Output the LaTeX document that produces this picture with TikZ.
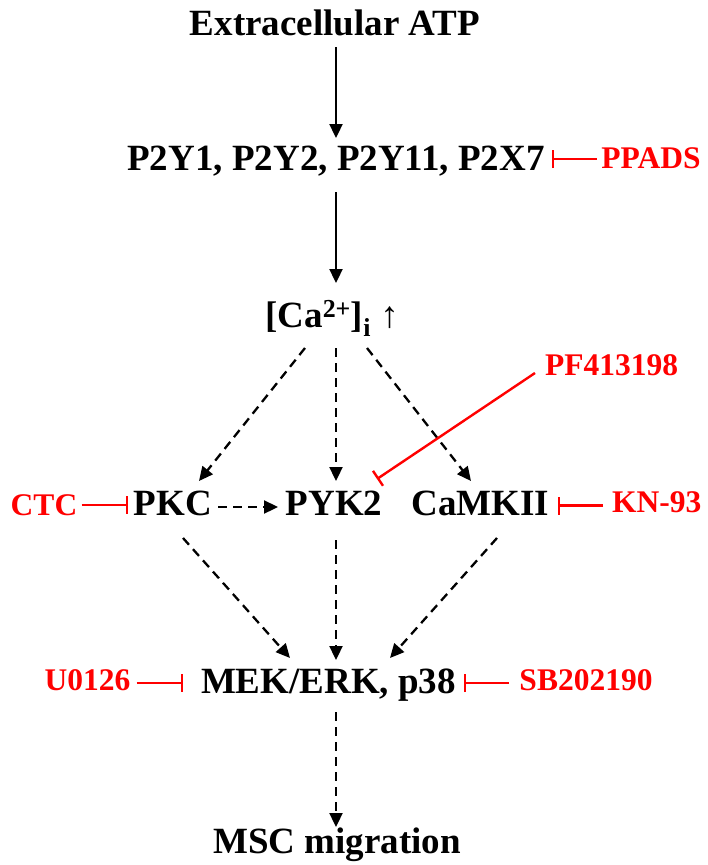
\documentclass[tikz,border=0pt]{standalone}
\usepackage{fontspec}
\setmainfont{Liberation Serif}
\usetikzlibrary{arrows.meta,calc}
\definecolor{inhred}{RGB}{255,0,0}
\tikzset{
  lbl/.style={inner sep=0pt, anchor=base, font=\fontsize{37}{40}\selectfont\bfseries},
  inh/.style={inner sep=0pt, anchor=base, text=inhred, font=\fontsize{31.5}{36}\selectfont\bfseries},
  act/.style={line width=2.3pt, -{Triangle[length=14pt,width=13pt]}},
  dact/.style={act, dash pattern=on 9pt off 6pt},
  block/.style={draw=inhred, line width=2.4pt, -{Bar[width=18pt,line width=2.4pt]}},
}
\begin{document}
\begin{tikzpicture}[x=1pt,y=-1pt]
\useasboundingbox (0,0) rectangle (708,865);

% signalling components
\node[lbl] (atp)  at (335,35)    {Extracellular ATP};
\node[lbl] (p2y)  at (336,170)   {P2Y1, P2Y2, P2Y11, P2X7};
\node[lbl] (ca)   at (332,327)   {[Ca\textsuperscript{2+}]\textsubscript{i} {\mdseries ↑}};
\node[lbl] (pkc)  at (173,515)   {PKC};
\node[lbl] (pyk)  at (334,515)   {PYK2};
\node[lbl] (camk) at (480.5,515) {CaMKII};
\node[lbl] (mek)  at (328.5,693) {MEK/ERK, p38};
\node[lbl] (msc)  at (337,853)   {MSC migration};

% inhibitors
\node[inh] (ppads) at (651,168)   {PPADS};
\node[inh] (pf)    at (611.5,375) {PF413198};
\node[inh] (ctc)   at (44,515)    {CTC};
\node[inh] (kn)    at (656.7,512) {KN-93};
\node[inh] (uo)    at (87.5,690)  {U0126};
\node[inh] (sb)    at (586,690)   {SB202190};

% activation
\draw[act]  ($(atp.base)+(1,12)$)   -- ($(p2y.base)+(0,-32)$);
\draw[act]  ($(p2y.base)+(0,22)$)   -- ($(ca.base)+(4,-44)$);
\draw[dact] ($(ca.base)+(-27,21)$)  -- ($(pkc.base)+(26,-34)$);
\draw[dact] ($(ca.base)+(4,21)$)    -- ($(pyk.base)+(2,-34)$);
\draw[dact] ($(ca.base)+(35,21)$)   -- ($(camk.base)+(-9.5,-34)$);
\draw[dact] ($(pkc.base)+(45,-8)$)  -- ($(pyk.base)+(-56,-8)$);
\draw[dact] ($(pkc.base)+(10,23)$)  -- ($(mek.base)+(-38.5,-35)$);
\draw[dact] ($(pyk.base)+(2,25)$)   -- ($(mek.base)+(7.5,-33)$);
\draw[dact] ($(camk.base)+(16.5,23)$) -- ($(mek.base)+(61.5,-35)$);
\draw[dact] ($(mek.base)+(7.5,19)$) -- ($(msc.base)+(-1,-26)$);

% inhibition
\draw[block] ($(ppads.base)+(-54.3,-9)$) -- ($(p2y.base)+(215.7,-11)$);
\draw[block] ($(pf.base)+(-76.5,-2)$)    -- ($(pyk.base)+(43,-36)$);
\draw[block] ($(ctc.base)+(37.7,-10)$)   -- ($(pkc.base)+(-44.7,-10)$);
\draw[block] ($(kn.base)+(-53.7,-6.5)$)  -- ($(camk.base)+(77.5,-9.5)$);
\draw[block] ($(uo.base)+(49.2,-7)$)     -- ($(mek.base)+(-145.2,-10)$);
\draw[block] ($(sb.base)+(-77,-7)$)      -- ($(mek.base)+(135,-10)$);
\end{tikzpicture}
\end{document}
